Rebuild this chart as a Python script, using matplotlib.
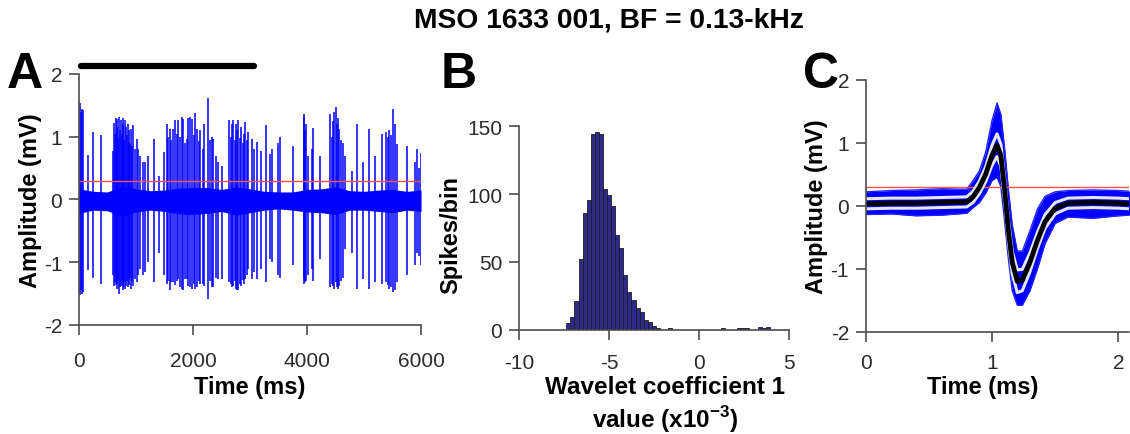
import matplotlib
matplotlib.use("Agg")
import matplotlib.pyplot as plt
import numpy as np

plt.rcParams['font.family'] = ['Liberation Sans', 'DejaVu Sans']
plt.rcParams['axes.unicode_minus'] = False

# ---- panel A: raw trace ----
# spike times (ms) with their upper and lower extremes (mV)
spike_t = [15, 35, 50, 70, 164, 240, 386,
           600, 615, 630, 645, 660, 675, 690, 705, 720, 735, 750, 765, 780, 795,
           810, 825, 840, 855, 870, 885, 900, 915, 930, 950,
           983, 1010, 1040, 1070, 1129, 1160, 1216, 1322, 1398, 1485,
           1538, 1560, 1596, 1620, 1655, 1690, 1720, 1743, 1770, 1800, 1830, 1860,
           1889, 1920, 1950, 1977, 2010, 2040, 2064, 2100, 2130, 2181, 2200, 2269,
           2300, 2330, 2357, 2400, 2444, 2503,
           2637, 2660, 2685, 2708, 2730, 2755, 2775, 2795, 2820, 2845, 2870, 2890,
           2912, 2940, 2970, 3029, 3070, 3117, 3187, 3275, 3351, 3380, 3497, 3526, 3749,
           3940, 3955, 3970, 3985, 4024, 4082, 4111, 4228,
           4404, 4430, 4460, 4480, 4503, 4525, 4545, 4567, 4590, 4637, 4667, 4784,
           4872, 4988, 5088, 5193, 5310, 5380, 5420, 5439, 5480, 5515, 5535, 5573,
           5749, 5895, 5924, 5960, 5994]
spike_hi = [1.53, 1.40, 1.45, 1.42, 0.71, 1.08, 1.03,
            0.78, 1.22, 1.05, 1.30, 1.15, 1.28, 0.98, 1.32, 1.10, 1.26, 1.05, 1.30, 1.20, 0.95,
            1.26, 1.15, 1.02, 1.21, 0.90, 1.10, 0.88, 1.13, 0.86, 1.18,
            0.81, 0.97, 0.81, 0.70, 0.60, 0.60, 0.70, 0.97, 0.38, 0.75,
            1.21, 1.00, 1.13, 0.95, 1.13, 1.26, 1.05, 1.26, 1.00, 1.32, 1.29, 0.90,
            0.97, 1.30, 1.32, 1.29, 1.02, 1.38, 1.13, 0.93, 1.10, 0.81, 1.20, 1.61,
            0.95, 1.00, 0.97, 0.70, 0.60, 0.54,
            1.26, 1.00, 1.21, 1.26, 0.95, 1.21, 1.10, 1.26, 0.98, 1.15, 0.90, 1.05,
            1.23, 0.95, 1.08, 0.97, 0.80, 0.92, 0.78, 1.18, 0.72, 0.81, 0.90, 1.00, 0.86,
            1.30, 1.37, 1.10, 1.20, 0.70, 0.81, 1.14, 0.70,
            1.37, 1.00, 1.25, 1.40, 1.47, 1.20, 1.30, 1.13, 0.95, 0.90, 0.70, 0.46,
            1.21, 0.60, 1.13, 0.70, 1.05, 1.08, 1.00, 1.10, 1.02, 1.45, 1.20, 0.89,
            0.85, 0.60, 0.81, 0.50, 0.74]
spike_lo = [-1.53, -1.45, -1.50, -1.48, -1.13, -1.25, -1.35,
            -1.20, -1.38, -1.32, -1.36, -1.42, -1.35, -1.30, -1.51, -1.40, -1.38, -1.35, -1.44, -1.40, -1.32,
            -1.42, -1.38, -1.30, -1.40, -1.28, -1.36, -1.25, -1.42, -1.30, -1.38,
            -1.27, -1.32, -1.20, -1.11, -1.20, -1.15, -1.00, -1.32, -0.85, -1.21,
            -1.35, -1.30, -1.45, -1.32, -1.32, -1.36, -1.30, -1.27, -1.40, -1.43, -1.45, -1.27,
            -1.27, -1.38, -1.40, -1.43, -1.35, -1.43, -1.40, -1.30, -1.35, -1.35, -1.38, -1.58,
            -1.30, -1.40, -1.40, -1.25, -1.27, -1.27,
            -1.32, -1.35, -1.40, -1.38, -1.30, -1.42, -1.45, -1.45, -1.35, -1.38, -1.28, -1.35,
            -1.27, -1.20, -1.11, -1.27, -1.15, -1.27, -1.10, -1.32, -0.95, -1.00, -1.20, -1.25, -1.05,
            -1.27, -1.35, -1.32, -1.30, -1.20, -1.11, -1.30, -0.95,
            -1.40, -1.35, -1.38, -1.42, -1.32, -1.40, -1.43, -1.38, -1.30, -1.25, -0.79, -0.85,
            -1.43, -1.27, -1.43, -1.32, -1.35, -1.32, -1.36, -1.43, -1.40, -1.48, -1.45, -1.32,
            -1.20, -1.05, -0.85, -0.90, -1.05]

# background noise band of the trace
noise_t = [0, 250, 500, 750, 1000, 1250, 1500, 1750, 2000, 2250, 2500, 2750, 3000,
           3250, 3500, 3750, 4000, 4250, 4500, 4750, 5000, 5250, 5500, 5750, 6000]
noise_hi = [0.17, 0.13, 0.12, 0.21, 0.17, 0.14, 0.15, 0.18, 0.19, 0.19, 0.16, 0.20, 0.17,
            0.13, 0.12, 0.12, 0.16, 0.17, 0.20, 0.14, 0.13, 0.15, 0.16, 0.13, 0.15]
noise_lo = [-0.22, -0.17, -0.18, -0.27, -0.20, -0.17, -0.19, -0.23, -0.24, -0.22, -0.19, -0.25, -0.21,
            -0.17, -0.15, -0.17, -0.20, -0.21, -0.24, -0.17, -0.17, -0.19, -0.21, -0.17, -0.19]

threshold = 0.3
stim_on, stim_off = 30, 3070

# ---- panel B: histogram of wavelet coefficient (50 bins) ----
bin_left = -7.37
bin_width = 0.226
counts = [5, 9, 21, 52, 86, 96, 144, 146, 144, 104, 99, 91, 70, 60, 40, 28, 22, 16, 13, 7,
          6, 3, 1, 0, 0, 1, 0, 0, 0, 0, 0, 0, 0, 0, 0, 0, 0, 0, 1, 0,
          0, 0, 1, 1, 1, 0, 0, 2, 1, 2]

# ---- panel C: spike waveforms ----
wave_t = [0.00, 0.20, 0.40, 0.60, 0.80, 0.85, 0.90, 0.95, 1.00, 1.04, 1.07, 1.10, 1.13,
          1.16, 1.20, 1.24, 1.30, 1.36, 1.42, 1.50, 1.60, 1.80, 2.00, 2.09]
wave_mean = [0.03, 0.04, 0.04, 0.05, 0.06, 0.14, 0.29, 0.50, 0.80, 0.96, 0.80, 0.25, -0.40,
             -0.90, -1.20, -1.18, -0.90, -0.55, -0.25, -0.04, 0.04, 0.05, 0.04, 0.03]
wave_sd = [0.08, 0.08, 0.08, 0.08, 0.08, 0.09, 0.10, 0.12, 0.16, 0.18, 0.18, 0.18, 0.18,
           0.18, 0.18, 0.17, 0.15, 0.13, 0.11, 0.09, 0.08, 0.08, 0.08, 0.08]
env_hi = [0.22, 0.24, 0.25, 0.27, 0.26, 0.40, 0.55, 0.85, 1.35, 1.63, 1.45, 0.90, 0.25,
          -0.30, -0.72, -0.72, -0.40, -0.05, 0.15, 0.22, 0.24, 0.25, 0.24, 0.23]
env_lo = [-0.14, -0.13, -0.16, -0.15, -0.12, -0.03, 0.05, 0.20, 0.40, 0.45, 0.30, -0.25, -0.85,
          -1.35, -1.58, -1.58, -1.35, -1.00, -0.60, -0.28, -0.18, -0.20, -0.16, -0.15]

spine_col = '#4d4d4d'
tick_col = '#2b2b2b'


def style(ax, xpad=12):
    for s in ['top', 'right']:
        ax.spines[s].set_visible(False)
    for s in ['left', 'bottom']:
        ax.spines[s].set_color(spine_col)
        ax.spines[s].set_linewidth(1.2)
    ax.tick_params(direction='out', length=7, width=1.2, color=spine_col,
                   labelsize=15, labelcolor=tick_col)
    ax.tick_params(axis='y', pad=5)
    ax.tick_params(axis='x', pad=xpad)


fig = plt.figure(figsize=(11.3, 4.35), dpi=100)

# A
axA = fig.add_axes([0.0699, 0.2506, 0.3027, 0.577])
axA.fill_between(noise_t, noise_lo, noise_hi, color='#0000ff', lw=0)
axA.vlines(spike_t, spike_lo, spike_hi, color='#0000ff', lw=1.3, alpha=0.85)
axA.axhline(threshold, color='#ff5050', lw=1)
axA.plot([stim_on, stim_off], [2.12, 2.12], color='black', lw=4.5,
         solid_capstyle='round', clip_on=False)
axA.set_xlim(0, 6000)
axA.set_ylim(-2, 2)
axA.set_xticks([0, 2000, 4000, 6000])
axA.set_yticks([-2, -1, 0, 1, 2])
style(axA)
axA.set_xlabel('Time (ms)', fontsize=17, fontweight='bold')
axA.set_ylabel('Amplitude (mV)', fontsize=17, fontweight='bold')
axA.xaxis.set_label_coords(0.5, -0.20)
axA.yaxis.set_label_coords(-0.108, 0.5)

# B
axB = fig.add_axes([0.4593, 0.2398, 0.239, 0.4676])
edges = bin_left + bin_width * np.arange(len(counts))
axB.bar(edges, counts, width=bin_width, align='edge', color='#2e2a8c',
        edgecolor='#1c1c1c', linewidth=0.6)
axB.set_xlim(-10, 5)
axB.set_ylim(0, 150)
axB.set_xticks([-10, -5, 0, 5])
axB.set_yticks([0, 50, 100, 150])
style(axB, xpad=10)
axB.set_xlabel('Wavelet coefficient 1\nvalue (x10$^{\\mathregular{-3}}$)', fontsize=17.5,
               fontweight='bold', linespacing=1.2)
axB.set_ylabel('Spikes/bin', fontsize=17, fontweight='bold')
axB.xaxis.set_label_coords(0.54, -0.225)
axB.yaxis.set_label_coords(-0.21, 0.47)

# C
axC = fig.add_axes([0.7661, 0.2352, 0.2333, 0.5793])
axC.fill_between(wave_t, env_lo, env_hi, color='#0000ff', lw=0)
axC.plot(wave_t, env_hi, color='#2020ff', lw=1)
axC.plot(wave_t, env_lo, color='#2020ff', lw=1)
axC.axhline(threshold, color='#ff5050', lw=1)
m = np.array(wave_mean)
sd = np.array(wave_sd)
axC.plot(wave_t, m + sd, color='#e6e6e6', lw=2.2)
axC.plot(wave_t, m - sd, color='#e6e6e6', lw=2.2)
axC.plot(wave_t, m, color='black', lw=3.5)
axC.set_xlim(0, 2.087)
axC.set_ylim(-2, 2)
axC.set_xticks([0, 1, 2])
axC.set_yticks([-2, -1, 0, 1, 2])
style(axC, xpad=8.5)
axC.set_xlabel('Time (ms)', fontsize=17, fontweight='bold')
axC.set_ylabel('Amplitude (mV)', fontsize=17, fontweight='bold')
axC.xaxis.set_label_coords(0.445, -0.172)
axC.yaxis.set_label_coords(-0.143, 0.5)

# panel letters and title
fig.text(0.006, 0.798, 'A', fontsize=36, fontweight='bold')
fig.text(0.390, 0.798, 'B', fontsize=36, fontweight='bold')
fig.text(0.711, 0.798, 'C', fontsize=36, fontweight='bold')
fig.text(0.539, 0.952, 'MSO 1633 001, BF = 0.13-kHz', fontsize=20.3, fontweight='bold',
         ha='center', va='center')

fig.savefig('out.png', dpi=100)
